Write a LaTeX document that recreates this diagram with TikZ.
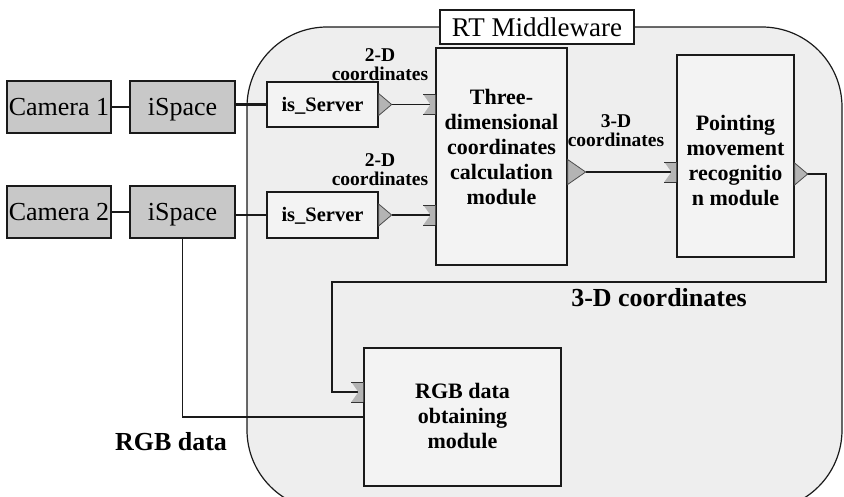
\documentclass[tikz,border=0pt]{standalone}
\usepackage{fontspec}
\setmainfont{Liberation Serif}
\definecolor{bgfill}{HTML}{EEEEEE}
\definecolor{boxgray}{HTML}{C8C8C8}
\definecolor{modfill}{HTML}{F3F3F3}
\definecolor{portgray}{HTML}{B4B4B4}
\definecolor{linec}{HTML}{1A1A1A}
\begin{document}
\begin{tikzpicture}[x=1pt,y=-1pt,line join=miter,
  gbox/.style={draw=linec,line width=1.3pt,fill=boxgray,minimum height=52pt,inner sep=0pt,text height=17pt,text depth=0pt,font=\fontsize{26}{28}\selectfont},
  srvbox/.style={draw=linec,line width=1.3pt,fill=modfill,minimum width=111pt,minimum height=45pt,inner sep=0pt,text height=13.5pt,text depth=0pt,font=\bfseries\fontsize{20.5}{22}\selectfont},
  modbox/.style={draw=linec,line width=1.3pt,fill=modfill,inner sep=0pt},
  modtext/.style={align=center,inner sep=0pt,font=\bfseries\fontsize{22}{25}\selectfont},
  lbl/.style={align=center,inner sep=0pt,font=\bfseries\fontsize{19.5}{19}\selectfont},
  biglbl/.style={inner sep=0pt,font=\bfseries\fontsize{26}{28}\selectfont},
  conn/.style={draw=linec,line width=1.6pt},
  outport/.pic={\filldraw[fill=portgray,draw=gray!60!black,line width=0.8pt] (0,-11) -- (13,0) -- (0,11) -- cycle;},
  bigoutport/.pic={\filldraw[fill=portgray,draw=gray!60!black,line width=0.8pt] (0,-12.5) -- (18,0) -- (0,12.5) -- cycle;},
  inport/.pic={\fill[portgray] (-12,-10) -- (0,-10) -- (0,10) -- (-12,10) -- (-5,0) -- cycle;
               \draw[gray!40!black,line width=1pt] (-12,-10) -- (0,-10) (-12,10) -- (0,10);}
]
\useasboundingbox (0,0) rectangle (844,496);
% RT Middleware container
\begin{scope}
\clip (0,0) rectangle (844,496);
\draw[fill=bgfill,draw=linec,line width=1.2pt,rounded corners=80pt] (247,27) rectangle (842,510);
\end{scope}
\node[draw=linec,line width=1.3pt,fill=white,minimum width=194pt,minimum height=34pt,inner sep=0pt,text height=18pt,text depth=0pt,font=\fontsize{27}{30}\selectfont] (rt) at (537,27) {RT Middleware};

% left blocks
\node[gbox,minimum width=104pt] (cam1) at (59,107) {Camera 1};
\node[gbox,minimum width=105pt] (isp1) at (182.5,107) {iSpace};
\node[gbox,minimum width=104pt] (cam2) at (59,212) {Camera 2};
\node[gbox,minimum width=105pt] (isp2) at (182.5,212) {iSpace};

% servers
\node[srvbox] (srv1) at (322.5,104.5) {is\_Server};
\node[srvbox,minimum height=46pt] (srv2) at (322.5,215) {is\_Server};

% modules
\node[modbox,minimum width=131pt,minimum height=217pt] (three) at (501.5,156.5) {};
\node[modtext] (threet) at (501.5,147) {Three-\\dimensional\\coordinates\\calculation\\module};
\node[modbox,minimum width=117pt,minimum height=202pt] (point) at (735.5,156) {};
\node[modtext] (pointt) at (735.5,160) {Pointing\\movement\\recognitio\\n module};
\node[modbox,minimum width=197pt,minimum height=138pt] (rgb) at (462.5,417) {};
\node[modtext] (rgbt) at (462.5,416) {RGB data\\obtaining\\module};

% labels
\node[lbl] (l2d1) at (380,65) {2-D\\coordinates};
\node[lbl] (l2d2) at (380,169.5) {2-D\\coordinates};
\node[lbl] (l3d) at (616,131) {3-D\\coordinates};
\node[biglbl] (l3dbig) at (659,298) {3-D coordinates};
\node[biglbl] (lrgb) at (171,442) {RGB data};

% ports
\coordinate (s1o) at (srv1.east);
\coordinate (s2o) at (srv2.east);
\coordinate (t1i) at (three.west |- srv1.east);
\coordinate (t2i) at (three.west |- srv2.east);
\coordinate (to) at ([yshift=-15.5pt]three.east);
\coordinate (pi) at (point.west |- to);
\coordinate (po) at ([yshift=-18pt]point.east);
\coordinate (ri) at ([yshift=25pt]rgb.west);
\coordinate (b1) at (826,282);
\coordinate (b2) at (332,282);

% connectors
\draw[conn] (cam1.east) -- (isp1.west);
\draw[conn] (cam2.east) -- (isp2.west);
\draw[draw=linec,line width=3pt] (isp1.east |- srv1.west) -- (srv1.west);
\draw[conn] (isp2.east |- srv2.west) -- (srv2.west);
\draw[conn] ([xshift=13pt]s1o) -- ([xshift=-5pt]t1i);
\draw[conn] ([xshift=13pt]s2o) -- ([xshift=-5pt]t2i);
\draw[conn] ([xshift=18pt]to) -- ([xshift=-5pt]pi);
\draw[conn] ([xshift=11pt]po) -| (b1) -- (b2) |- ([xshift=-5pt]ri);
\draw[conn] (isp2.south) |- (rgb.west);

\pic at (s1o) {outport};
\pic at (s2o) {outport};
\pic at (t1i) {inport};
\pic at (t2i) {inport};
\pic at (to) {bigoutport};
\pic at (pi) {inport};
\pic at (po) {outport};
\pic at (ri) {inport};
\end{tikzpicture}
\end{document}
